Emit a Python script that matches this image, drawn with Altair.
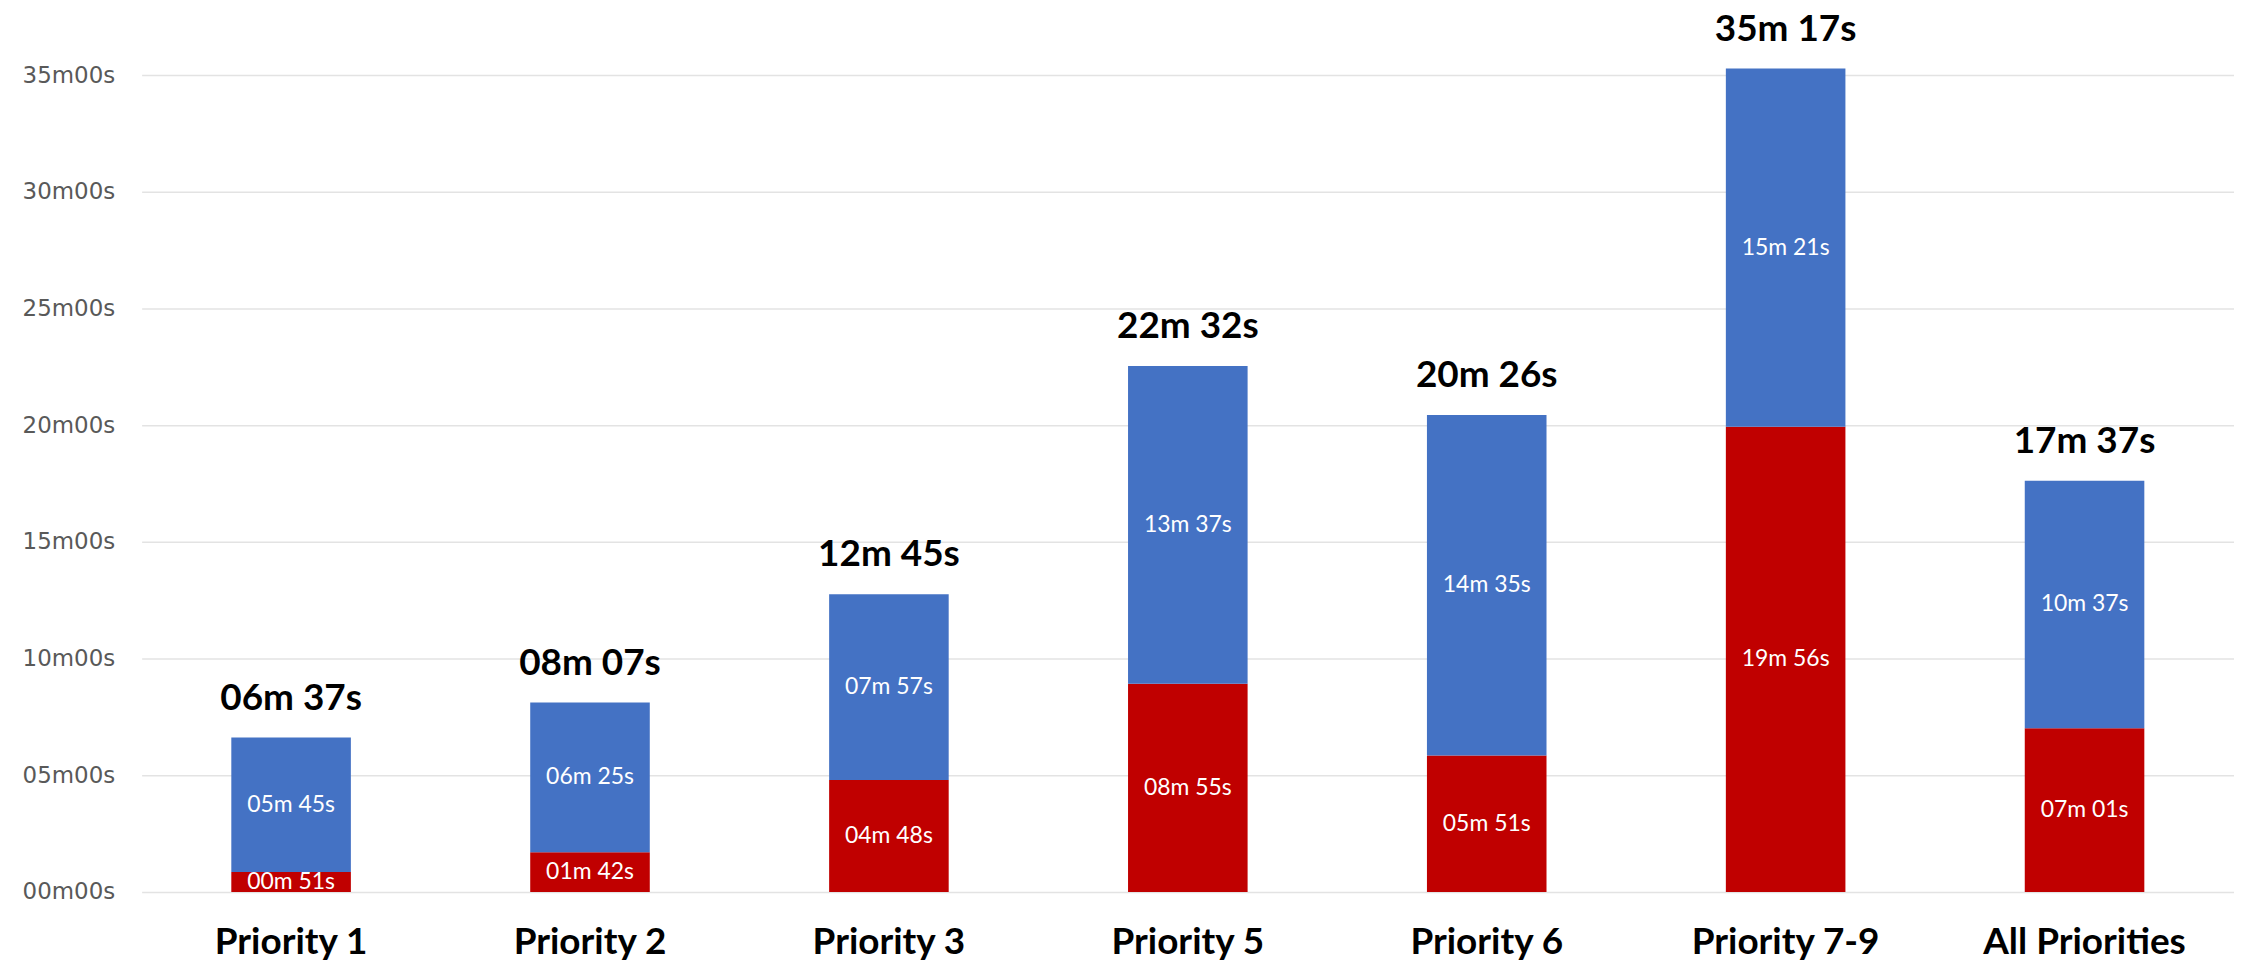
import altair as alt
import pandas as pd

categories = ["Priority 1", "Priority 2", "Priority 3", "Priority 5", "Priority 6", "Priority 7-9", "All Priorities"]
red_labels = ["00m 51s", "01m 42s", "04m 48s", "08m 55s", "05m 51s", "19m 56s", "07m 01s"]
blue_labels = ["05m 45s", "06m 25s", "07m 57s", "13m 37s", "14m 35s", "15m 21s", "10m 37s"]
total_labels = ["06m 37s", "08m 07s", "12m 45s", "22m 32s", "20m 26s", "35m 17s", "17m 37s"]
y_ticks = [0, 5, 10, 15, 20, 25, 30, 35]

RED = "#C00000"
BLUE = "#4472C4"


def to_min(s):
    m, sec = s.replace("s", "").split("m")
    return int(m) + int(sec) / 60.0


seg_rows = []
tot_rows = []
for c, r, b, t in zip(categories, red_labels, blue_labels, total_labels):
    rv, bv, tv = to_min(r), to_min(b), to_min(t)
    seg_rows.append({"cat": c, "seg": "red", "start": 0.0, "end": rv, "mid": rv / 2, "label": r})
    seg_rows.append({"cat": c, "seg": "blue", "start": rv, "end": tv, "mid": (rv + tv) / 2, "label": b})
    tot_rows.append({"cat": c, "total": tv, "label": t})

seg = pd.DataFrame(seg_rows)
tot = pd.DataFrame(tot_rows)

xenc = alt.X(
    "cat:N",
    sort=categories,
    title=None,
    scale=alt.Scale(paddingInner=0.6, paddingOuter=0.3),
    axis=alt.Axis(
        labelAngle=0,
        labelFont="Lato",
        labelFontWeight="bold",
        labelFontSize=37,
        labelColor="#000000",
        labelPadding=33,
        labelLimit=600,
        ticks=False,
        domain=False,
        grid=False,
    ),
)

yscale = alt.Scale(domain=[0, 35], nice=False, zero=True)

bars = alt.Chart(seg).mark_bar().encode(
    x=xenc,
    y=alt.Y(
        "start:Q",
        scale=yscale,
        title=None,
        axis=alt.Axis(
            values=y_ticks,
            labelExpr="(datum.value < 10 ? '0' : '') + datum.value + 'm00s'",
            labelFont="DejaVu Sans",
            labelFontSize=23,
            labelColor="#595959",
            labelPadding=27,
            ticks=False,
            domain=False,
            gridColor="#e3e3e3",
            gridWidth=1.5,
        ),
    ),
    y2="end:Q",
    color=alt.Color(
        "seg:N",
        scale=alt.Scale(domain=["red", "blue"], range=[RED, BLUE]),
        legend=None,
    ),
)

inner = alt.Chart(seg).mark_text(
    font="Lato", fontSize=23, color="#ffffff", baseline="middle", align="center"
).encode(
    x=alt.X("cat:N", sort=categories),
    y=alt.Y("mid:Q", scale=yscale),
    text="label:N",
)

totals = alt.Chart(tot).mark_text(
    font="Lato", fontWeight="bold", fontSize=37, color="#000000",
    baseline="alphabetic", align="center", dy=-28,
).encode(
    x=alt.X("cat:N", sort=categories),
    y=alt.Y("total:Q", scale=yscale),
    text="label:N",
)

chart = (
    alt.layer(bars, inner, totals)
    .properties(
        width=2098,
        height=819,
        autosize=alt.AutoSizeParams(type="none"),
        padding={"left": 134, "top": 66, "right": 0, "bottom": 73},
        background="#ffffff",
    )
    .configure_view(strokeWidth=0)
)

chart.save("out.html", embed_options={"renderer": "svg", "actions": False})
